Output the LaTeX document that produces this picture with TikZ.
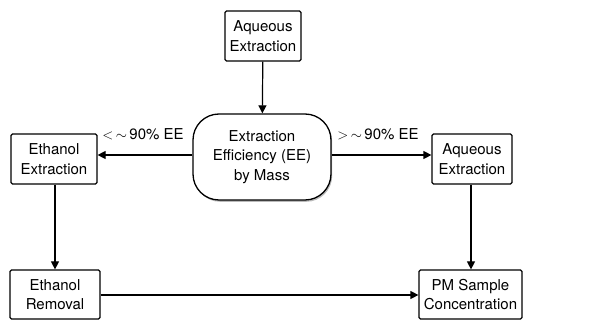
\documentclass[tikz,border=0pt]{standalone}
\usepackage{fontspec}
\setmainfont{TeX Gyre Heros}
\usetikzlibrary{arrows.meta,shadows}
\begin{document}
\begin{tikzpicture}[x=1pt,y=-1pt,
  every node/.style={font=\fontsize{15}{19.5}\selectfont, align=center, inner sep=0pt},
  procbox/.style={draw, line width=1.2pt, rounded corners=1.5pt},
  term/.style={draw, line width=1.3pt, rounded corners=26pt, fill=white,
    drop shadow={shadow xshift=1.2pt, shadow yshift=-1.8pt, fill=black!45, opacity=0.6}},
  conn/.style={line width=1.2pt, -{Triangle[length=8pt,width=8pt]}},
  lbl/.style={font=\fontsize{15}{16}\selectfont}]
\useasboundingbox (0,0) rectangle (614,320);
\node[procbox, minimum width=76, minimum height=50] (top) at (263,36) {Aqueous\\Extraction};
\node[term, minimum width=138, minimum height=86] (ee) at (262,157) {Extraction\\Efficiency (EE)\\by Mass};
\node[procbox, minimum width=86, minimum height=50] (eth) at (54,159) {Ethanol\\Extraction};
\node[procbox, minimum width=80, minimum height=50] (aq) at (472,159) {Aqueous\\Extraction};
\node[procbox, minimum width=90, minimum height=49] (rem) at (55,294.5) {Ethanol\\Removal};
\node[procbox, minimum width=103, minimum height=49] (pm) at (470.5,294.5) {PM Sample\\Concentration};
\draw[conn] (top) -- (ee);
\draw[conn] (ee.west |- 0,155) -- (eth.east |- 0,155);
\draw[conn] (ee.east |- 0,155) -- (aq.west |- 0,155);
\draw[conn] (eth.south -| 55,0) -- (rem.north -| 55,0);
\draw[conn] (aq.south -| 471,0) -- (pm.north -| 471,0);
\draw[conn] (rem.east |- 0,295) -- (pm.west |- 0,295);
\node[lbl] (l1) at (143,134) {$<$\,$\sim$\,90\% EE};
\node[lbl] (l2) at (378,134) {$>$\,$\sim$\,90\% EE};
\end{tikzpicture}
\end{document}
